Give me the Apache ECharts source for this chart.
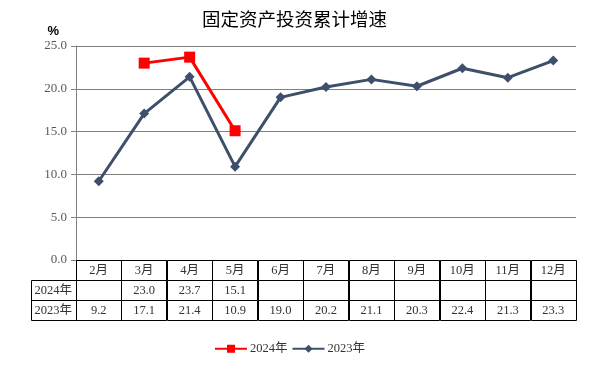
<!DOCTYPE html>
<html><head><meta charset="utf-8">
<script src="https://cdn.jsdelivr.net/npm/echarts@6/dist/echarts.min.js"></script>
<style>html,body{margin:0;padding:0;background:#fff}#c{width:594px;height:366px}</style>
</head><body><div id="c"></div>
<script>
var months = ['2月','3月','4月','5月','6月','7月','8月','9月','10月','11月','12月'];
var s2024 = [null, 23.0, 23.7, 15.1, null, null, null, null, null, null, null];
var s2023 = [9.2, 17.1, 21.4, 10.9, 19.0, 20.2, 21.1, 20.3, 22.4, 21.3, 23.3];
var name2024 = '2024年', name2023 = '2023年';
var yMin = 0, yMax = 25, yStep = 5;

var serif = '"Liberation Serif","DejaVu Serif","Noto Sans CJK SC",serif';
var c2024 = '#FF0000', c2023 = '#3E4F6B';

// table cells: [col, row, text]; col 0 = row label column, row 0 = header
var tableCols = [''].concat(months);
var cells = [];
months.forEach(function(m, i){ cells.push([i+1, 0, m]); });
[[name2024, s2024],[name2023, s2023]].forEach(function(r, ri){
  cells.push([0, ri+1, r[0]]);
  r[1].forEach(function(v, i){ cells.push([i+1, ri+1, v == null ? '' : v.toFixed(1)]); });
});

var chart = echarts.init(document.getElementById('c'));
chart.setOption({
  animation: false,
  title: { text: '固定资产投资累计增速', left: 197, top: 5,
    textStyle: { fontSize: 18.5, fontWeight: 'normal', color: '#000', fontFamily: '"Noto Sans CJK SC",serif' } },
  legend: { bottom: 6, left: 209, itemWidth: 32, itemHeight: 10, itemGap: 4,
    textStyle: { fontSize: 12.5, color: '#333', fontFamily: serif, padding: [0, 0, 0, -2] },
    data: [name2024, name2023] },
  grid: [
    { left: 76, right: 18, top: 46, height: 214 },
    { left: 76 - 500/11, right: 18, top: 260, height: 60 }
  ],
  xAxis: [
    { type: 'category', gridIndex: 0, data: months, boundaryGap: true,
      axisLine: { show: false }, axisTick: { show: false }, axisLabel: { show: false } },
    { type: 'category', gridIndex: 1, data: tableCols, boundaryGap: true, show: false }
  ],
  yAxis: [
    { type: 'value', gridIndex: 0, min: yMin, max: yMax, interval: yStep,
      name: '%', nameGap: 8, nameTextStyle: { fontSize: 13, fontWeight: 'bold', color: '#000', align: 'right', padding: [0, 17, 0, 0] },
      axisLine: { show: true, lineStyle: { color: '#808080', width: 1 } },
      axisTick: { show: true, length: 5, lineStyle: { color: '#808080' } },
      axisLabel: { formatter: function(v){ return v.toFixed(1); }, fontSize: 13, color: '#595959', fontFamily: serif, margin: 9 },
      splitLine: { show: true, lineStyle: { color: '#808080', width: 1 } } },
    { type: 'category', gridIndex: 1, data: ['h', name2024, name2023], inverse: true, show: false }
  ],
  series: [
    { name: name2024, type: 'line', data: s2024, xAxisIndex: 0, yAxisIndex: 0, z: 4,
      connectNulls: false, symbol: 'rect', symbolSize: 11,
      lineStyle: { color: c2024, width: 3 }, itemStyle: { color: c2024 } },
    { name: name2023, type: 'line', data: s2023, xAxisIndex: 0, yAxisIndex: 0, z: 3,
      symbol: 'diamond', symbolSize: 10,
      lineStyle: { color: c2023, width: 3 }, itemStyle: { color: c2023 } },
    { type: 'custom', xAxisIndex: 1, yAxisIndex: 1, data: cells, silent: true,
      renderItem: function(params, api){
        var p = api.coord([api.value(0), api.value(1)]);
        var sz = api.size([1, 1]);
        var txt = cells[params.dataIndex][2];
        return { type: 'group', children: [
          { type: 'rect', shape: { x: Math.round(p[0] - sz[0]/2) + 0.5, y: Math.round(p[1] - sz[1]/2) + 0.5, width: Math.round(sz[0]), height: Math.round(sz[1]) },
            style: { fill: 'none', stroke: '#000', lineWidth: 1 } },
          { type: 'text', style: { x: p[0], y: p[1] + 1, text: txt, align: 'center', verticalAlign: 'middle',
            fontSize: 12.5, fill: '#333', fontFamily: serif } }
        ]};
      } }
  ]
});
</script></body></html>
